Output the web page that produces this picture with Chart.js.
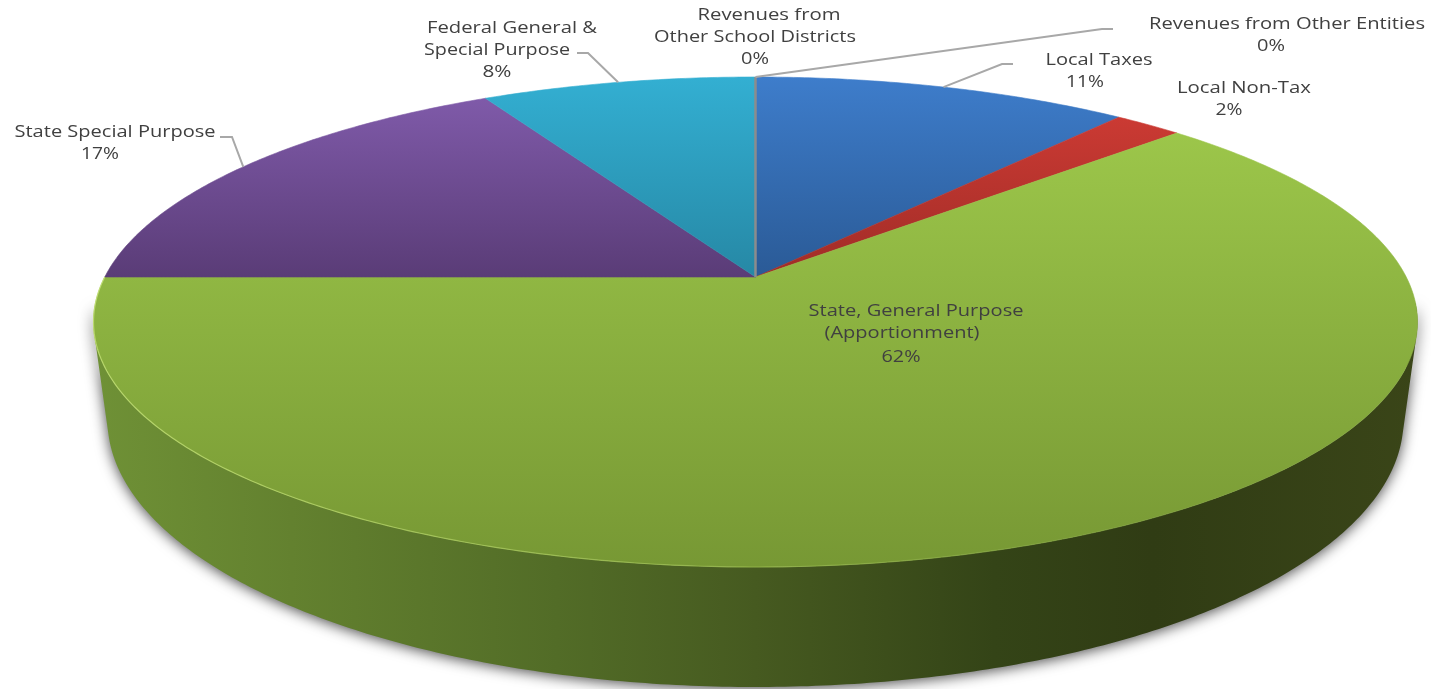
<!DOCTYPE html>
<html>
<head>
<meta charset="utf-8">
<title>Revenue sources</title>
<script src="https://cdn.jsdelivr.net/npm/chart.js@4/dist/chart.umd.min.js"></script>
<style>
  html, body { margin: 0; padding: 0; background: #fff; overflow: hidden; }
  #chart { display: block; }
</style>
</head>
<body>
<canvas id="chart" width="1431" height="689"></canvas>
<script>
// --- data ---
const categories = [
  ["Local Taxes"],
  ["Local Non-Tax"],
  ["State, General Purpose", "(Apportionment)"],
  ["State Special Purpose"],
  ["Federal General &", "Special Purpose"],
  ["Revenues from", "Other School Districts"],
  ["Revenues from Other Entities"]
];
const shares = [11, 2, 62, 17, 8, 0, 0];

// --- styles ---
const topColors = ["#3e7dcb", "#cb3a33", "#9cc64a", "#7f5aa9", "#33afd2", "#8c8c8c", "#8c8c8c"];
const lowColors = ["#2a5a96", "#a02c27", "#779834", "#5a3c77", "#2688a5", "#8c8c8c", "#8c8c8c"];
const wallStops = [
  [0.00, "#6f9136"], [0.15, "#63812f"], [0.35, "#526c27"], [0.50, "#465a20"],
  [0.68, "#344417"], [0.80, "#303c14"], [1.00, "#3a4518"]
];
const textColor = "#404040";
const leaderColor = "#a8a8a8";

// where each text line sits: [centre x, centre y, width]
const textPlaces = [
  [[1099, 60, 107], [1085, 82, 38]],
  [[1244, 88, 134], [1229, 110, 27]],
  [[916, 311, 215], [902, 333, 155], [901, 357, 39]],
  [[115, 132, 201], [100, 154, 38]],
  [[512, 28, 170], [497, 50, 146], [497, 72, 29]],
  [[769, 15, 143], [755, 37, 202], [755, 59, 28]],
  [[1287, 24, 276], [1271, 46, 28]]
];
// elbow points of the leader lines, null where a label has none
const leaderElbows = [
  [[1002, 64], [1013, 64]],
  null,
  null,
  [[232, 137], [220, 137]],
  [[588, 53], [577, 53]],
  null,
  [[1102, 29], [1113, 29]]
];

// circle seen in perspective: rim top/bottom y, centre y, widest half width
function makeProjection(cx, topY, bottomY, midY, halfWidth) {
  const gamma = (2 * midY - topY - bottomY) / (bottomY - topY);
  const alpha = bottomY * (1 + gamma) - midY;
  const delta = halfWidth * Math.sqrt(1 - gamma * gamma);
  return (angle) => {
    const u = Math.cos(angle), v = Math.sin(angle);
    const d = 1 + gamma * v;
    return [cx + delta * u / d, (alpha * v + midY) / d];
  };
}
const topRim = makeProjection(755.5, 77, 567, 277, 662);
const bottomRim = makeProjection(755.5, 153, 687, 372, 648);
const apex = [755.5, 277];

function arcSteps(a0, a1) {
  const pts = [];
  const n = Math.max(1, Math.ceil(Math.abs(a1 - a0) / 0.01));
  for (let i = 0; i <= n; i++) pts.push(a0 + (a1 - a0) * i / n);
  return pts;
}

function drawWall(ctx, arcs) {
  const grad = ctx.createLinearGradient(93, 0, 1418, 0);
  wallStops.forEach((s) => grad.addColorStop(s[0], s[1]));
  ctx.save();
  ctx.beginPath();
  arcs.forEach((arc) => {
    const angles = arcSteps(arc.startAngle, arc.endAngle);
    for (let i = 1; i < angles.length; i++) {
      // only the front of the rim has a visible wall
      if (Math.sin(angles[i]) < 0.1 || Math.sin(angles[i - 1]) < 0.1) continue;
      const quad = [topRim(angles[i - 1]), topRim(angles[i]), bottomRim(angles[i]), bottomRim(angles[i - 1])];
      let area = 0;
      quad.forEach((p, j) => {
        const q = quad[(j + 1) % 4];
        area += p[0] * q[1] - q[0] * p[1];
      });
      if (area < 0) quad.reverse();
      ctx.moveTo(quad[0][0], quad[0][1]);
      for (let j = 1; j < 4; j++) ctx.lineTo(quad[j][0], quad[j][1]);
      ctx.closePath();
    }
  });
  ctx.shadowColor = "rgba(0,0,0,0.7)";
  ctx.shadowBlur = 14;
  ctx.shadowOffsetY = 2;
  ctx.fillStyle = grad;
  ctx.fill();
  ctx.restore();
}

function drawSlice(ctx, arc, index) {
  if (arc.endAngle - arc.startAngle < 0.0001) return;
  const rim = arcSteps(arc.startAngle, arc.endAngle).map(topRim);
  const ys = rim.map((p) => p[1]).concat(apex[1]);
  const grad = ctx.createLinearGradient(0, Math.min.apply(null, ys), 0, Math.max.apply(null, ys));
  grad.addColorStop(0, topColors[index]);
  grad.addColorStop(1, lowColors[index]);
  ctx.beginPath();
  ctx.moveTo(apex[0], apex[1]);
  rim.forEach((p) => ctx.lineTo(p[0], p[1]));
  ctx.closePath();
  ctx.fillStyle = grad;
  ctx.strokeStyle = grad;
  ctx.lineWidth = 0.6;
  ctx.fill();
  ctx.stroke();
}

// zero share slices still show as a thin radial line
function drawSliver(ctx, arc) {
  if (arc.endAngle - arc.startAngle >= 0.0001) return;
  const p = topRim(arc.startAngle);
  ctx.beginPath();
  ctx.moveTo(apex[0], apex[1]);
  ctx.lineTo(p[0], p[1]);
  ctx.strokeStyle = "#8c8c8c";
  ctx.lineWidth = 2;
  ctx.stroke();
}

// light bevel along the front edge of the top face
function drawBevel(ctx) {
  const grad = ctx.createLinearGradient(93, 0, 1418, 0);
  grad.addColorStop(0, "rgba(196,226,118,0.8)");
  grad.addColorStop(0.5, "rgba(170,205,90,0.5)");
  grad.addColorStop(0.8, "rgba(150,190,70,0.1)");
  grad.addColorStop(1, "rgba(150,190,70,0)");
  ctx.beginPath();
  arcSteps(0.35, Math.PI).map(topRim).forEach((p, i) => {
    if (i === 0) ctx.moveTo(p[0], p[1]);
    else ctx.lineTo(p[0], p[1]);
  });
  ctx.strokeStyle = grad;
  ctx.lineWidth = 1.2;
  ctx.stroke();
}

function drawLeaders(ctx, arcs) {
  ctx.strokeStyle = leaderColor;
  ctx.lineWidth = 2;
  arcs.forEach((arc, i) => {
    if (!leaderElbows[i]) return;
    const start = topRim((arc.startAngle + arc.endAngle) / 2);
    ctx.beginPath();
    ctx.moveTo(start[0], start[1]);
    leaderElbows[i].forEach((p) => ctx.lineTo(p[0], p[1]));
    ctx.stroke();
  });
}

function drawLabels(ctx) {
  const total = shares.reduce((a, b) => a + b, 0);
  ctx.font = "17px 'Open Sans'";
  ctx.fillStyle = textColor;
  ctx.textAlign = "left";
  ctx.textBaseline = "middle";
  categories.forEach((lines, i) => {
    const all = lines.concat(Math.round(shares[i] / total * 100) + "%");
    all.forEach((line, j) => {
      const place = textPlaces[i][j];
      const w = ctx.measureText(line).width;
      // text is wider than the font's natural set width
      ctx.save();
      ctx.translate(place[0] - place[2] / 2, place[1]);
      ctx.scale(place[2] / w, 1);
      ctx.fillText(line, 0, 0);
      ctx.restore();
    });
  });
}

const perspectivePie = {
  id: "perspectivePie",
  beforeDatasetDraw(chart) {
    const ctx = chart.ctx;
    const arcs = chart.getDatasetMeta(0).data;
    drawWall(ctx, arcs);
    arcs.forEach((arc, i) => drawSlice(ctx, arc, i));
    arcs.forEach((arc) => drawSliver(ctx, arc));
    drawBevel(ctx);
    return false;
  },
  afterDraw(chart) {
    const ctx = chart.ctx;
    drawLeaders(ctx, chart.getDatasetMeta(0).data);
    drawLabels(ctx);
  }
};

new Chart(document.getElementById("chart"), {
  type: "pie",
  data: {
    labels: categories.map((c) => c.join(" ")),
    datasets: [{ data: shares, backgroundColor: topColors }]
  },
  options: {
    responsive: false,
    animation: false,
    plugins: { legend: { display: false }, tooltip: { enabled: false } }
  },
  plugins: [perspectivePie]
});
</script>
</body>
</html>
